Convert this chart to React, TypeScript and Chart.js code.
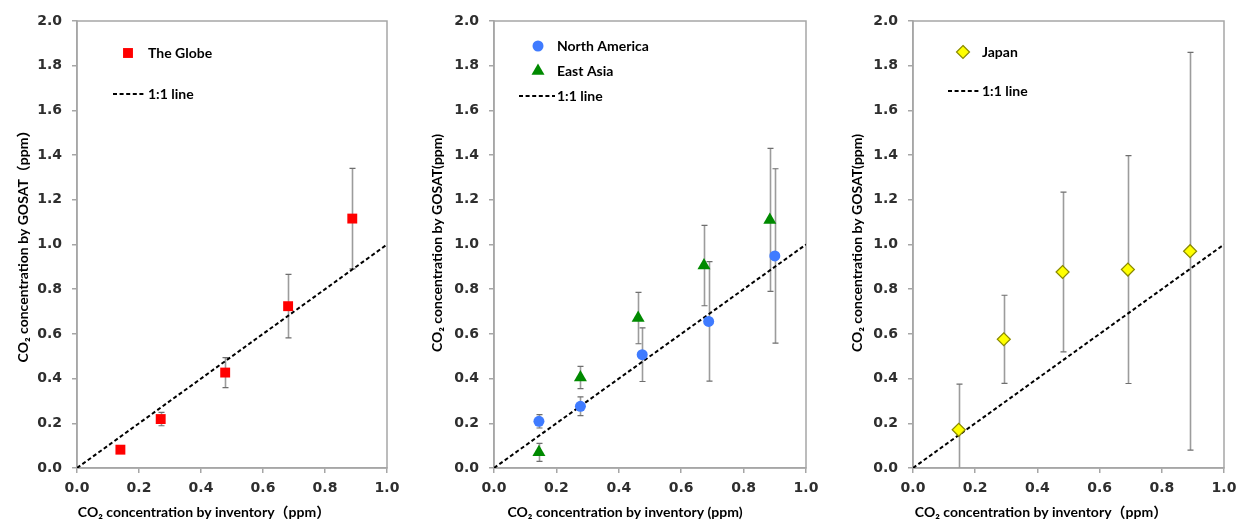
import React, { useEffect, useRef } from "react";
import { Chart, registerables } from "chart.js";

Chart.register(...registerables);

// ---------------- data ----------------
const globeX = [0.14, 0.27, 0.478, 0.681, 0.888];
const globeY = [0.082, 0.219, 0.427, 0.724, 1.116];
const globeErr = [0.012, 0.03, 0.067, 0.142, 0.225];

const naX = [0.144, 0.277, 0.475, 0.688, 0.9];
const naY = [0.209, 0.276, 0.507, 0.656, 0.949];
const naErr = [0.03, 0.042, 0.12, 0.267, 0.39];

const eaX = [0.144, 0.277, 0.462, 0.673, 0.884];
const eaY = [0.07, 0.405, 0.671, 0.906, 1.11];
const eaErr = [0.04, 0.05, 0.115, 0.18, 0.32];

const jpX = [0.147, 0.292, 0.481, 0.691, 0.891];
const jpY = [0.171, 0.576, 0.877, 0.888, 0.97];
const jpErr = [0.204, 0.197, 0.357, 0.51, 0.89];

const lineX = [0, 1];
const lineY = [0, 1];

const xRange = [0, 1];
const yRange = [0, 2];
const tickStep = 0.2;

const lineLabel = "1:1 line";
const yTitleWide = "CO\u2082 concentration by GOSAT\uFF08ppm\uFF09";
const yTitleNarrow = "CO\u2082 concentration by GOSAT(ppm)";
const xTitleWide = "CO\u2082 concentration by inventory\uFF08ppm\uFF09";
const xTitleNarrow = "CO\u2082 concentration by inventory (ppm)";

// ---------------- styles / layout ----------------
type Series = {
  label: string;
  xs: number[];
  ys: number[];
  errs: number[];
  style: string;
  radius: number;
  fill: string;
  stroke: string;
  lw: number;
  legendX: number;
  legendY: number;
};

type Panel = {
  key: string;
  canvasLeft: number;
  canvasWidth: number;
  plotLeft: number;
  plotRight: number;
  yTitle: string;
  xTitle: string;
  yTitleX: number;
  xTitleX: number;
  series: Series[];
  dash: { x1: number; x2: number; y: number };
  textX: number;
};

const CANVAS_H = 522;
const PLOT_TOP = 21;
const PLOT_BOTTOM = 468;
const TITLE_Y_CENTER = 243;
const XTITLE_Y = 512;

const panels: Panel[] = [
  {
    key: "globe",
    canvasLeft: 0,
    canvasWidth: 408,
    plotLeft: 77,
    plotRight: 387,
    yTitle: yTitleWide,
    xTitle: xTitleWide,
    yTitleX: 23,
    xTitleX: 204,
    series: [
      { label: "The Globe", xs: globeX, ys: globeY, errs: globeErr, style: "rect", radius: 7, fill: "#ff0000", stroke: "#ff0000", lw: 0, legendX: 128, legendY: 53 },
    ],
    dash: { x1: 113, x2: 146, y: 94 },
    textX: 148,
  },
  {
    key: "asia",
    canvasLeft: 412,
    canvasWidth: 412,
    plotLeft: 494,
    plotRight: 806,
    yTitle: yTitleNarrow,
    xTitle: xTitleNarrow,
    yTitleX: 437,
    xTitleX: 625,
    series: [
      { label: "North America", xs: naX, ys: naY, errs: naErr, style: "circle", radius: 5.5, fill: "#3f7bff", stroke: "#3f7bff", lw: 0, legendX: 538, legendY: 46 },
      { label: "East Asia", xs: eaX, ys: eaY, errs: eaErr, style: "triangle", radius: 7.5, fill: "#008a00", stroke: "#008a00", lw: 0, legendX: 538, legendY: 71 },
    ],
    dash: { x1: 519, x2: 555, y: 96 },
    textX: 557,
  },
  {
    key: "japan",
    canvasLeft: 824,
    canvasWidth: 412,
    plotLeft: 913,
    plotRight: 1224,
    yTitle: yTitleNarrow,
    xTitle: xTitleWide,
    yTitleX: 857,
    xTitleX: 1041,
    series: [
      { label: "Japan", xs: jpX, ys: jpY, errs: jpErr, style: "rectRot", radius: 6.5, fill: "#ffff00", stroke: "#8a8a00", lw: 1.2, legendX: 963, legendY: 52 },
    ],
    dash: { x1: 948, x2: 980, y: 91 },
    textX: 982,
  },
];

const TICK_FONT = { family: "'DejaVu Sans', Verdana, sans-serif", size: 14, weight: "bold" as const };
const TITLE_FONT = "bold 14px Lato, 'Noto Sans', 'Noto Sans CJK JP', sans-serif";
const LEGEND_FONT = "bold 14px Lato, 'Noto Sans', sans-serif";
const AXIS_GRAY = "#a6a6a6";
const TICK_COLOR = "#2e2e2e";

function drawMarker(ctx: CanvasRenderingContext2D, s: Series, x: number, y: number) {
  const r = s.radius;
  ctx.save();
  ctx.beginPath();
  if (s.style === "rect") {
    const h = Math.SQRT1_2 * r;
    ctx.rect(x - h, y - h, 2 * h, 2 * h);
  } else if (s.style === "circle") {
    ctx.arc(x, y, r, 0, Math.PI * 2);
  } else if (s.style === "triangle") {
    for (let k = 0; k < 3; k++) {
      const a = (k * 2 * Math.PI) / 3;
      const px = x + Math.sin(a) * r;
      const py = y - Math.cos(a) * r;
      if (k === 0) ctx.moveTo(px, py);
      else ctx.lineTo(px, py);
    }
    ctx.closePath();
  } else {
    ctx.moveTo(x, y - r);
    ctx.lineTo(x + r, y);
    ctx.lineTo(x, y + r);
    ctx.lineTo(x - r, y);
    ctx.closePath();
  }
  ctx.fillStyle = s.fill;
  ctx.fill();
  if (s.lw > 0) {
    ctx.lineWidth = s.lw;
    ctx.strokeStyle = s.stroke;
    ctx.stroke();
  }
  ctx.restore();
}

function makePlugin(p: Panel) {
  const off = p.canvasLeft;
  return {
    id: "deco_" + p.key,
    beforeDatasetsDraw(chart: any) {
      const { ctx, chartArea, scales } = chart;
      const xs = scales.x;
      const ys = scales.y;
      ctx.save();
      ctx.strokeStyle = AXIS_GRAY;
      ctx.lineWidth = 1.5;
      ctx.strokeRect(chartArea.left, chartArea.top, chartArea.right - chartArea.left, chartArea.bottom - chartArea.top);
      ctx.beginPath();
      ctx.rect(chartArea.left, chartArea.top, chartArea.right - chartArea.left, chartArea.bottom - chartArea.top);
      ctx.clip();
      p.series.forEach((s) => {
        s.xs.forEach((xv, i) => {
          const px = Math.round(xs.getPixelForValue(xv)) + 0.5;
          const top = ys.getPixelForValue(s.ys[i] + s.errs[i]);
          const bot = ys.getPixelForValue(s.ys[i] - s.errs[i]);
          ctx.strokeStyle = "#9c9c9c";
          ctx.lineWidth = 1.6;
          ctx.beginPath();
          ctx.moveTo(px, top);
          ctx.lineTo(px, bot);
          ctx.stroke();
          ctx.strokeStyle = "#6e6e6e";
          ctx.lineWidth = 1.2;
          ctx.beginPath();
          ctx.moveTo(px - 3, top);
          ctx.lineTo(px + 3, top);
          ctx.moveTo(px - 3, bot);
          ctx.lineTo(px + 3, bot);
          ctx.stroke();
        });
      });
      ctx.restore();
    },
    afterDraw(chart: any) {
      const { ctx } = chart;
      ctx.save();
      // legend
      ctx.font = LEGEND_FONT;
      ctx.fillStyle = "#000";
      ctx.textBaseline = "middle";
      ctx.textAlign = "left";
      p.series.forEach((s) => {
        drawMarker(ctx, s, s.legendX - off, s.legendY);
        ctx.fillStyle = "#000";
        ctx.fillText(s.label, p.textX - off, s.legendY);
      });
      ctx.strokeStyle = "#000";
      ctx.lineWidth = 2;
      ctx.setLineDash([4, 2.6]);
      ctx.beginPath();
      ctx.moveTo(p.dash.x1 - off, p.dash.y);
      ctx.lineTo(p.dash.x2 - off, p.dash.y);
      ctx.stroke();
      ctx.setLineDash([]);
      ctx.fillText(lineLabel, p.textX - off, p.dash.y);
      // titles
      ctx.font = TITLE_FONT;
      ctx.textAlign = "center";
      ctx.fillText(p.xTitle, p.xTitleX - off, XTITLE_Y);
      ctx.translate(p.yTitleX - off, TITLE_Y_CENTER);
      ctx.rotate(-Math.PI / 2);
      ctx.fillText(p.yTitle, 0, 0);
      ctx.restore();
    },
  };
}

function ChartPanel({ p }: { p: Panel }) {
  const ref = useRef<HTMLCanvasElement | null>(null);
  useEffect(() => {
    if (!ref.current) return;
    const datasets: any[] = p.series.map((s) => ({
      type: "scatter",
      label: s.label,
      data: s.xs.map((x, i) => ({ x, y: s.ys[i] })),
      pointStyle: s.style,
      pointRadius: s.radius,
      pointBackgroundColor: s.fill,
      pointBorderColor: s.stroke,
      pointBorderWidth: s.lw,
      showLine: false,
    }));
    datasets.push({
      type: "line",
      label: lineLabel,
      data: lineX.map((x, i) => ({ x, y: lineY[i] })),
      borderColor: "#000",
      borderWidth: 2,
      borderDash: [4, 2.6],
      pointRadius: 0,
      fill: false,
    });
    const plotLeftLocal = p.plotLeft - p.canvasLeft;
    const rightPad = p.canvasWidth - (p.plotRight - p.canvasLeft);
    const chart = new Chart(ref.current, {
      type: "scatter",
      data: { datasets },
      options: {
        responsive: false,
        animation: false,
        events: [],
        layout: { padding: { left: 0, top: PLOT_TOP, right: rightPad, bottom: 0 } },
        plugins: { legend: { display: false }, tooltip: { enabled: false }, title: { display: false } },
        scales: {
          x: {
            type: "linear",
            min: xRange[0],
            max: xRange[1],
            ticks: {
              stepSize: tickStep,
              callback: (v: any) => Number(v).toFixed(1),
              font: TICK_FONT,
              color: TICK_COLOR,
              padding: 7,
              maxRotation: 0,
            },
            grid: { drawOnChartArea: false, drawTicks: true, tickLength: 5, color: AXIS_GRAY, lineWidth: 1.5 },
            border: { display: true, color: AXIS_GRAY, width: 1.5 },
            afterFit: (scale: any) => {
              scale.height = CANVAS_H - PLOT_BOTTOM;
              scale.paddingLeft = 0;
              scale.paddingRight = 0;
            },
          },
          y: {
            type: "linear",
            min: yRange[0],
            max: yRange[1],
            ticks: {
              stepSize: tickStep,
              callback: (v: any) => Number(v).toFixed(1),
              font: TICK_FONT,
              color: TICK_COLOR,
              padding: 10,
            },
            grid: { drawOnChartArea: false, drawTicks: true, tickLength: 5, color: AXIS_GRAY, lineWidth: 1.5 },
            border: { display: true, color: AXIS_GRAY, width: 1.5 },
            afterFit: (scale: any) => {
              scale.width = plotLeftLocal;
              scale.paddingTop = 0;
              scale.paddingBottom = 0;
            },
          },
        },
      } as any,
      plugins: [makePlugin(p)],
    });
    return () => chart.destroy();
  }, [p]);
  return (
    <canvas
      ref={ref}
      width={p.canvasWidth}
      height={CANVAS_H}
      style={{ position: "absolute", left: p.canvasLeft, top: 0, width: p.canvasWidth, height: CANVAS_H }}
    />
  );
}

export default function App() {
  return (
    <div style={{ position: "absolute", left: 0, top: 0, width: 1236, height: CANVAS_H, background: "#fff" }}>
      {panels.map((p) => (
        <ChartPanel key={p.key} p={p} />
      ))}
    </div>
  );
}
